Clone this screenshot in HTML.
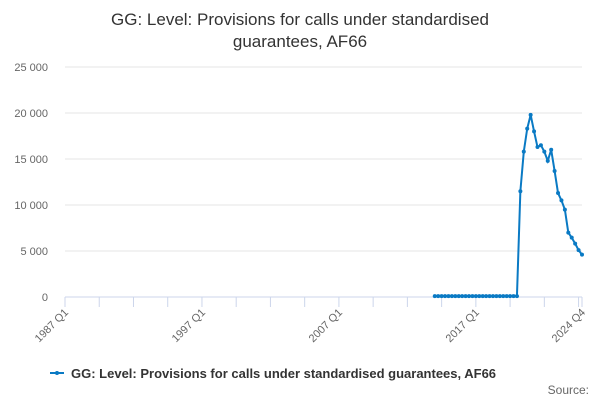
<!DOCTYPE html>
<html><head><meta charset="utf-8"><style>
body{margin:0;background:#fff;font-family:"Liberation Sans",sans-serif}
svg text{font-family:"Liberation Sans",sans-serif}
</style></head><body>
<svg width="600" height="400" xmlns="http://www.w3.org/2000/svg">
<text x="300" y="25" text-anchor="middle" font-size="17" fill="#333">GG: Level: Provisions for calls under standardised</text>
<text x="300" y="47" text-anchor="middle" font-size="17" fill="#333">guarantees, AF66</text>
<g id="grid"></g><g id="xaxis"></g><g id="series"></g>
<g>
<line x1="50" y1="373" x2="64" y2="373" stroke="#0a7ac4" stroke-width="2"/>
<circle cx="57" cy="373" r="2" fill="#0a7ac4"/>
<text x="71" y="378" font-size="13" font-weight="bold" fill="#333">GG: Level: Provisions for calls under standardised guarantees, AF66</text>
</g>
<text x="589" y="394" text-anchor="end" font-size="12" fill="#666">Source:</text>
</svg>
<script>
const yTicks=[0,5000,10000,15000,20000,25000];
const yTickLabels=["0","5 000","10 000","15 000","20 000","25 000"];
const xLabelIdx=[0,40,80,120,151];
const xLabels=["1987 Q1","1997 Q1","2007 Q1","2017 Q1","2024 Q4"];
const startIdx=108;
const values=[100,100,100,100,100,100,100,100,100,100,100,100,100,100,100,100,100,100,100,100,100,100,100,100,100,
11500,15800,18300,19800,18000,16300,16500,15800,14800,16000,13700,11300,10500,9500,7000,6450,5800,5100,4600];
const NS="http://www.w3.org/2000/svg";
const x0=65,x1=582,nQ=151,y0=297,yMax=25000,yH=230;
const X=i=>x0+(x1-x0)*i/nQ;
const Y=v=>y0-v/yMax*yH;
function mk(t,a,p){const e=document.createElementNS(NS,t);for(const k in a)e.setAttribute(k,a[k]);p.appendChild(e);return e;}
const grid=document.getElementById('grid');
yTicks.forEach((v,i)=>{
 const l=mk('line',{x1:x0,x2:x1,y1:Y(v),y2:Y(v),stroke:i==0?'#ccd6eb':'#e6e6e6','stroke-width':1},grid);
 
 
 const t=mk('text',{x:48,y:Y(v)+4,'text-anchor':'end','font-size':11,fill:'#666'},grid);
 t.textContent=yTickLabels[i];
 
 
});
const xa=document.getElementById('xaxis');
for(let i=0;i<=nQ;i+=10){
 const l=mk('line',{x1:X(i),x2:X(i),y1:y0,y2:y0+10,stroke:'#ccd6eb'},xa);
 
 
}
{const l=mk('line',{x1:X(nQ),x2:X(nQ),y1:y0,y2:y0+10,stroke:'#ccd6eb'},xa);

}
xLabelIdx.forEach((q,i)=>{
 const x=X(q)+4,y=y0+16;
 const t=mk('text',{x:x,y:y,'text-anchor':'end','font-size':11,fill:'#666',transform:`rotate(-45 ${x} ${y})`},xa);
 t.textContent=xLabels[i];
 
 
});
const s=document.getElementById('series');
const pts=values.map((v,i)=>[X(startIdx+i),Y(v)]);
const pl=mk('polyline',{points:pts.map(p=>p.join(',')).join(' '),fill:'none',stroke:'#0a7ac4','stroke-width':2},s);


pts.forEach(p=>{
 const c=mk('circle',{cx:p[0],cy:p[1],r:2,fill:'#0a7ac4'},s);
 
 
});
</script>
</body></html>
